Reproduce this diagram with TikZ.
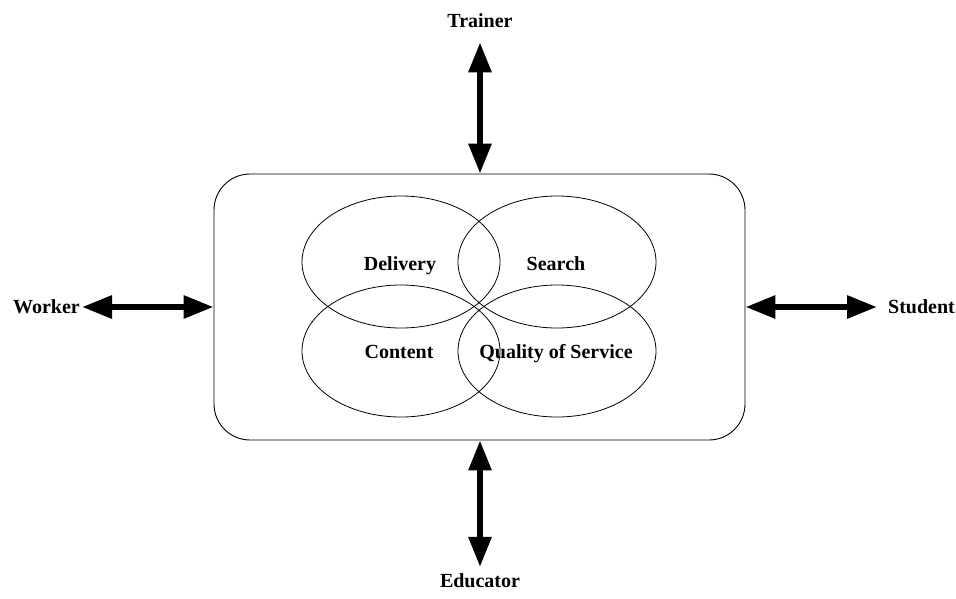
\documentclass[tikz,border=0pt]{standalone}
\usepackage{fontspec}
\setmainfont{Liberation Serif}
\usetikzlibrary{arrows.meta,shapes.geometric}
\begin{document}
\begin{tikzpicture}[x=1pt,y=-1pt,
  lbl/.style={font=\fontsize{20}{24}\selectfont\bfseries, inner sep=0pt},
  ring/.style={draw, ellipse, line width=0.8pt, minimum width=198pt, minimum height=132pt, inner sep=0pt},
  dbl/.style={line width=6pt, {Triangle[length=30pt,width=22pt]}-{Triangle[length=30pt,width=22pt]}},
]
\useasboundingbox (0,0) rectangle (956,598);

% outer system box
\node[draw, line width=0.9pt, rounded corners=36pt, minimum width=531pt,
      minimum height=266pt, inner sep=0pt] (sys) at (479.5,307) {};

% the four overlapping areas
\node[ring] (delivery) at (401,262) {};
\node[ring] (search)   at (557,262) {};
\node[ring] (content)  at (401,351) {};
\node[ring] (qos)      at (557,351) {};

\node[lbl, anchor=base] at (400,270) {Delivery};
\node[lbl, anchor=base] at (556,270) {Search};
\node[lbl, anchor=base] at (399,358) {Content};
\node[lbl, anchor=base] at (556,358) {Quality of Service};

% actors
\node[lbl, anchor=base]  (trainer)  at (480,27)  {Trainer};
\node[lbl, anchor=base]  (educator) at (480,587) {Educator};
\node[lbl, anchor=east]  (worker)   at (80,307)  {Worker};
\node[lbl, anchor=west]  (student)  at (888,307) {Student};

% two-way links
\draw[dbl, shorten <=15pt] (trainer.south) -- (trainer.south |- sys.north);
\draw[dbl, shorten >=6pt] (educator.north |- sys.south) -- (educator.north);
\draw[dbl, shorten <=2pt] (worker.east) -- (sys.west);
\draw[dbl, shorten >=11pt] (sys.east) -- (student.west);
\end{tikzpicture}
\end{document}
